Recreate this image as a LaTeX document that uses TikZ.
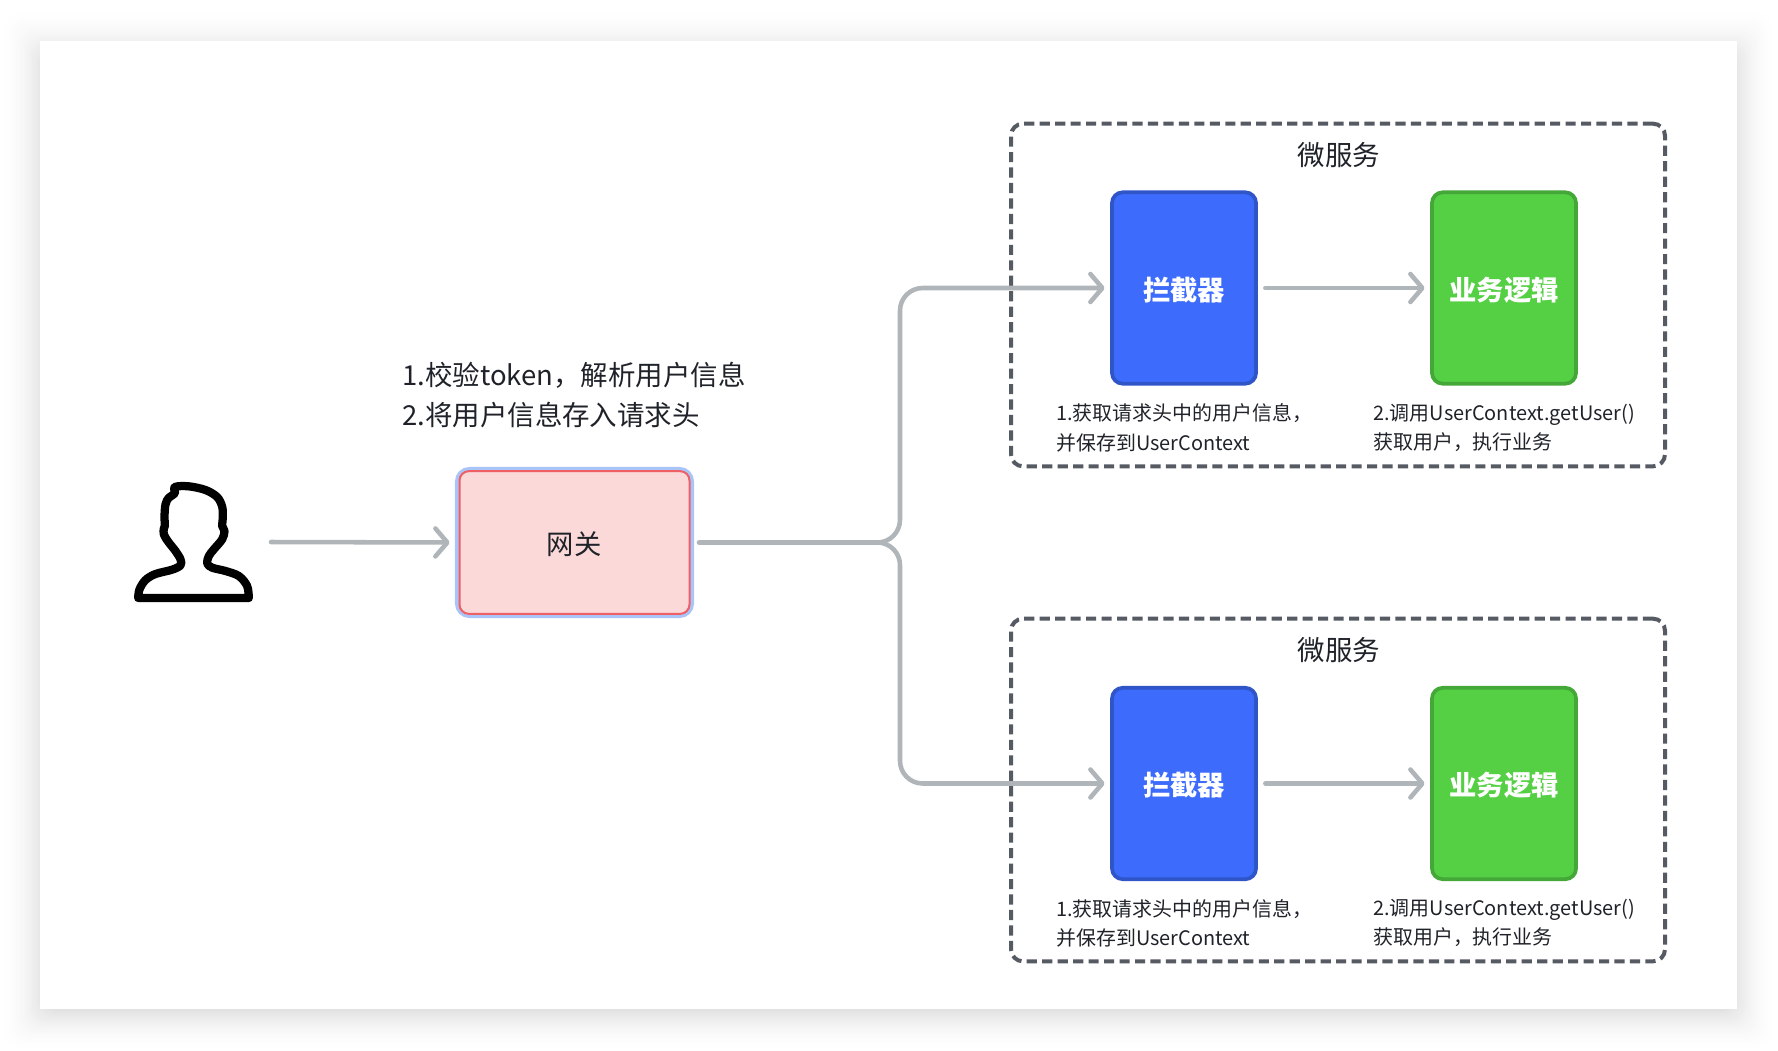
\documentclass[tikz,border=0pt]{standalone}
\usepackage{fontspec}
\setmainfont{Noto Sans CJK SC}
\usetikzlibrary{arrows.meta}
\definecolor{connGray}{HTML}{B0B5B9}
\definecolor{dashGray}{HTML}{555A63}
\definecolor{blueFill}{HTML}{3D6BFB}
\definecolor{blueEdge}{HTML}{2F55C8}
\definecolor{greenFill}{HTML}{55D045}
\definecolor{greenEdge}{HTML}{44A838}
\definecolor{gwFill}{HTML}{FBD9D9}
\definecolor{gwEdge}{HTML}{EE5F66}
\definecolor{gwSel}{HTML}{A9C4F7}
\definecolor{txt}{HTML}{1F2329}
\tikzset{
  conn/.style={draw=connGray,line width=3.4pt,line cap=round,line join=round,
    -{Straight Barb[length=9pt,width=21pt,line width=3.4pt,round]}},
  cardbox/.style={minimum width=108pt,minimum height=143.5pt,inner sep=0pt,outer sep=0pt,
    rounded corners=8pt,line width=2.8pt},
  cardtext/.style={label={[text=white,inner sep=0pt,yshift=-1.5pt,font=\fontsize{20.5}{24}\selectfont\bfseries]center:#1}},
  bluebox/.style={cardbox,fill=blueFill,draw=blueEdge},
  greenbox/.style={cardbox,fill=greenFill,draw=greenEdge},
  groupbox/.style={draw=dashGray,line width=3pt,rounded corners=9pt,dash pattern=on 7.6pt off 4pt,
    minimum width=490.5pt,minimum height=257pt,inner sep=0pt,outer sep=0pt},
  grouptitle/.style={text=txt,font=\fontsize{20.6}{24}\selectfont,inner sep=0pt},
  caption/.style={text=txt,anchor=north west,align=left,inner sep=0pt,font=\fontsize{14.95}{22}\selectfont},
}
\begin{document}
\begin{tikzpicture}[x=0.75pt,y=-0.75pt]
\useasboundingbox (0,0) rectangle (1778,1050);
% page shadow
\fill[white] (0,0) rectangle (1778,1050);
\foreach \i in {40,39,...,1}{
  \pgfmathsetmacro{\g}{14*(1-\i/41)*(1-\i/41)}
  \fill[black!\g!white,rounded corners=12pt] ({48-1.2*\i},{60-1.3*\i}) rectangle ({1729+1.2*\i},{1006+1.15*\i});
}
\fill[white] (40,41) rectangle (1737,1009);

% user icon
\coordinate (userright) at (271,542);
\begin{scope}[shift={(125.5,476)},x=0.25pt,y=-0.25pt]
\draw[black,line width=6.2pt,line join=round]
  plot[smooth,tension=0.55] coordinates {
   (38,366) (42,340) (60,312) (90,294) (140,281) (165,268) (165,250) (150,225) (128,197)
   (115,175) (115,158) (118,150) (117,122) (120,85) (130,65) (148,52) (148,33)
   (190,31) (240,42) (275,63) (290,92) (292,125) (290,150) (297,165) (290,190)
   (265,220) (250,240) (245,262) (260,275) (300,285) (340,300) (365,330) (370,366)
  } -- cycle;
\end{scope}

% gateway
\node[minimum width=175.5pt,minimum height=109.5pt,inner sep=0pt,rounded corners=9pt,
      draw=gwSel,line width=3.8pt] (gwsel) at (574.5,542.5) {};
\node[minimum width=172.5pt,minimum height=107pt,inner sep=0pt,outer sep=0pt,rounded corners=7pt,
      fill=gwFill,draw=gwEdge,line width=1.5pt] (gw) at (574.5,542.5) {};
\node[text=txt,font=\fontsize{20.5}{24}\selectfont,inner sep=0pt] (gwlabel) at (574,544) {网关};
\node[anchor=north west,text=txt,align=left,inner sep=0pt,font=\fontsize{20.6}{30}\selectfont]
  (gwnote) at (402,362) {1.校验token，解析用户信息\\2.将用户信息存入请求头};

% service groups
\node[groupbox] (g1) at (1338,295) {};
\node[groupbox] (g2) at (1338,790) {};
\node[grouptitle] (t1) at (1339,155) {微服务};
\node[grouptitle] (t2) at (1339,650) {微服务};

\node[bluebox,cardtext=拦截器] (b1) at (1184,288) {};
\node[greenbox,cardtext=业务逻辑] (c1) at (1504,288) {};
\node[bluebox,cardtext=拦截器] (b2) at (1184,783.5) {};
\node[greenbox,cardtext=业务逻辑] (c2) at (1504,783.5) {};

\node[caption] (n1) at (1056,403.5) {1.获取请求头中的用户信息，\\并保存到UserContext};
\node[caption] (m1) at (1373,403.5) {2.调用UserContext.getUser()\\获取用户，执行业务};
\node[caption] (n2) at (1056,899) {1.获取请求头中的用户信息，\\并保存到UserContext};
\node[caption] (m2) at (1373,899) {2.调用UserContext.getUser()\\获取用户，执行业务};

% connectors
\draw[conn,shorten >=4pt] (userright) -- (gwsel.west);
\coordinate (j) at (900,542.5);
\draw[conn,rounded corners=17pt,shorten <=3.8pt,shorten >=5.5pt] (gwsel.east) -- (j) |- (b1.west);
\draw[conn,rounded corners=17pt,shorten <=3.8pt,shorten >=5.5pt] (gwsel.east) -- (j) |- (b2.west);
\draw[conn,shorten <=7pt,shorten >=5.5pt] (b1.east) -- (c1.west);
\draw[conn,shorten <=7pt,shorten >=5.5pt] (b2.east) -- (c2.west);
\end{tikzpicture}
\end{document}
